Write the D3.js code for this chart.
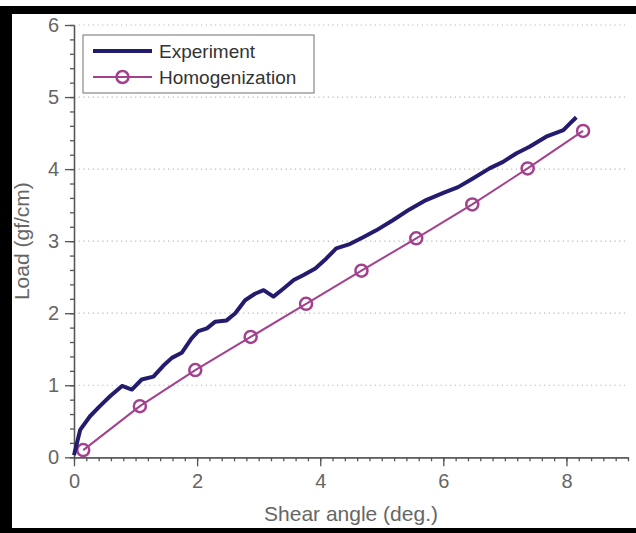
<!DOCTYPE html>
<html>
<head>
<meta charset="utf-8">
<script src="https://cdn.jsdelivr.net/npm/d3@7"></script>
<style>
  body { margin: 0; background: #fff; }
  svg { display: block; font-family: "Liberation Sans", Arial, sans-serif; }
  .axis text { fill: #666; font-size: 20px; }
  .axis path, .axis line { stroke: #555; stroke-width: 1.3; }
</style>
</head>
<body>
<svg id="chart" width="636" height="533" viewBox="0 0 636 533"></svg>
<script>
// experiment curve (shear angle, load)
const expX = [0, 0.1, 0.26, 0.42, 0.59, 0.78, 0.94, 1.1, 1.29, 1.45, 1.59, 1.75, 1.91, 2.02, 2.16, 2.29, 2.48, 2.62, 2.78, 2.94, 3.08, 3.24, 3.4, 3.57, 3.73, 3.92, 4.1, 4.26, 4.48, 4.69, 4.91, 5.18, 5.45, 5.72, 6.0, 6.24, 6.48, 6.75, 6.97, 7.19, 7.4, 7.67, 7.95, 8.03, 8.16]
const expY = [0.03, 0.38, 0.57, 0.71, 0.85, 0.99, 0.94, 1.08, 1.12, 1.27, 1.38, 1.45, 1.65, 1.75, 1.79, 1.88, 1.9, 2.0, 2.18, 2.27, 2.32, 2.23, 2.34, 2.46, 2.53, 2.62, 2.76, 2.9, 2.96, 3.05, 3.15, 3.29, 3.44, 3.57, 3.67, 3.75, 3.87, 4.01, 4.1, 4.22, 4.31, 4.45, 4.54, 4.61, 4.72]

// homogenization model
const homX = [0.15, 1.07, 1.97, 2.87, 3.77, 4.67, 5.56, 6.47, 7.37, 8.27]
const homY = [0.1, 0.71, 1.21, 1.67, 2.13, 2.59, 3.04, 3.51, 4.01, 4.53]

const xTicks = [0, 2, 4, 6, 8]
const yTicks = [0, 1, 2, 3, 4, 5, 6]
const seriesNames = ["Experiment", "Homogenization"]

const expColor = "#231c6e"
const homColor = "#a3418f"

const svg = d3.select("#chart")

// black frame bits of the original scan
svg.append("rect").attr("x", 0).attr("y", 6).attr("width", 636).attr("height", 8).attr("fill", "#000")
svg.append("rect").attr("x", 0).attr("y", 6).attr("width", 12).attr("height", 527).attr("fill", "#000")
svg.append("rect").attr("x", 0).attr("y", 528).attr("width", 636).attr("height", 5).attr("fill", "#000")

const x = d3.scaleLinear().domain([0, 9]).range([74, 628])
const y = d3.scaleLinear().domain([0, 6]).range([457.3, 25])

// dotted grid
svg.append("g")
    .selectAll("line")
    .data(yTicks.filter(d => d > 0))
    .enter()
    .append("line")
    .attr("x1", x(0))
    .attr("x2", x(9))
    .attr("y1", d => y(d))
    .attr("y2", d => y(d))
    .attr("stroke", "#b8b8b8")
    .attr("stroke-width", 1.2)
    .attr("stroke-dasharray", "1.2,3.5")

// minor ticks
svg.append("g")
    .attr("class", "axis")
    .attr("transform", `translate(0,${y(0)})`)
    .call(d3.axisBottom(x).tickValues(d3.range(0, 9.01, 0.2)).tickSize(4).tickSizeOuter(0).tickFormat(""))
svg.append("g")
    .attr("class", "axis")
    .attr("transform", `translate(${x(0)},0)`)
    .call(d3.axisLeft(y).tickValues(d3.range(0, 6.01, 0.2)).tickSize(4).tickSizeOuter(0).tickFormat(""))

// major ticks
svg.append("g")
    .attr("class", "axis")
    .attr("transform", `translate(0,${y(0)})`)
    .call(d3.axisBottom(x).tickValues(xTicks).tickSize(9).tickSizeOuter(0).tickPadding(8).tickFormat(d3.format("d")))
svg.append("g")
    .attr("class", "axis")
    .attr("transform", `translate(${x(0)},0)`)
    .call(d3.axisLeft(y).tickValues(yTicks).tickSize(9).tickSizeOuter(0).tickPadding(6).tickFormat(d3.format("d")))

// axis titles
svg.append("text")
    .attr("x", (x(0) + x(9)) / 2)
    .attr("y", 521)
    .attr("text-anchor", "middle")
    .attr("fill", "#666")
    .style("font-size", "21px")
    .text("Shear angle (deg.)")
svg.append("text")
    .attr("transform", `translate(29,${(y(0) + y(6)) / 2}) rotate(-90)`)
    .attr("text-anchor", "middle")
    .attr("fill", "#666")
    .style("font-size", "21px")
    .text("Load (gf/cm)")

const line = d3.line().x(d => x(d[0])).y(d => y(d[1]))

const expData = d3.zip(expX, expY)
const homData = d3.zip(homX, homY)

svg.append("path")
    .datum(homData)
    .attr("d", line)
    .attr("fill", "none")
    .attr("stroke", homColor)
    .attr("stroke-width", 2)

svg.append("g")
    .selectAll("circle")
    .data(homData)
    .enter()
    .append("circle")
    .attr("cx", d => x(d[0]))
    .attr("cy", d => y(d[1]))
    .attr("r", 6)
    .attr("fill", "none")
    .attr("stroke", homColor)
    .attr("stroke-width", 2.5)

svg.append("path")
    .datum(expData)
    .attr("d", line)
    .attr("fill", "none")
    .attr("stroke", expColor)
    .attr("stroke-width", 4)
    .attr("stroke-linejoin", "round")

// legend
const legend = svg.append("g").attr("transform", "translate(83,35)")
legend.append("rect")
    .attr("width", 231)
    .attr("height", 58)
    .attr("fill", "#fff")
    .attr("stroke", "#888")
    .attr("stroke-width", 1.2)

legend.append("line")
    .attr("x1", 10).attr("x2", 69).attr("y1", 16).attr("y2", 16)
    .attr("stroke", expColor).attr("stroke-width", 4)
legend.append("line")
    .attr("x1", 10).attr("x2", 69).attr("y1", 42).attr("y2", 42)
    .attr("stroke", homColor).attr("stroke-width", 2)
legend.append("circle")
    .attr("cx", 39.5).attr("cy", 42).attr("r", 6)
    .attr("fill", "none").attr("stroke", homColor).attr("stroke-width", 2.5)

legend.selectAll("text.lbl")
    .data(seriesNames)
    .enter()
    .append("text")
    .attr("class", "lbl")
    .attr("x", 76)
    .attr("y", (d, i) => 16 + i * 26)
    .attr("dy", "0.35em")
    .attr("fill", "#333")
    .style("font-size", "19px")
    .text(d => d)
</script>
</body>
</html>
